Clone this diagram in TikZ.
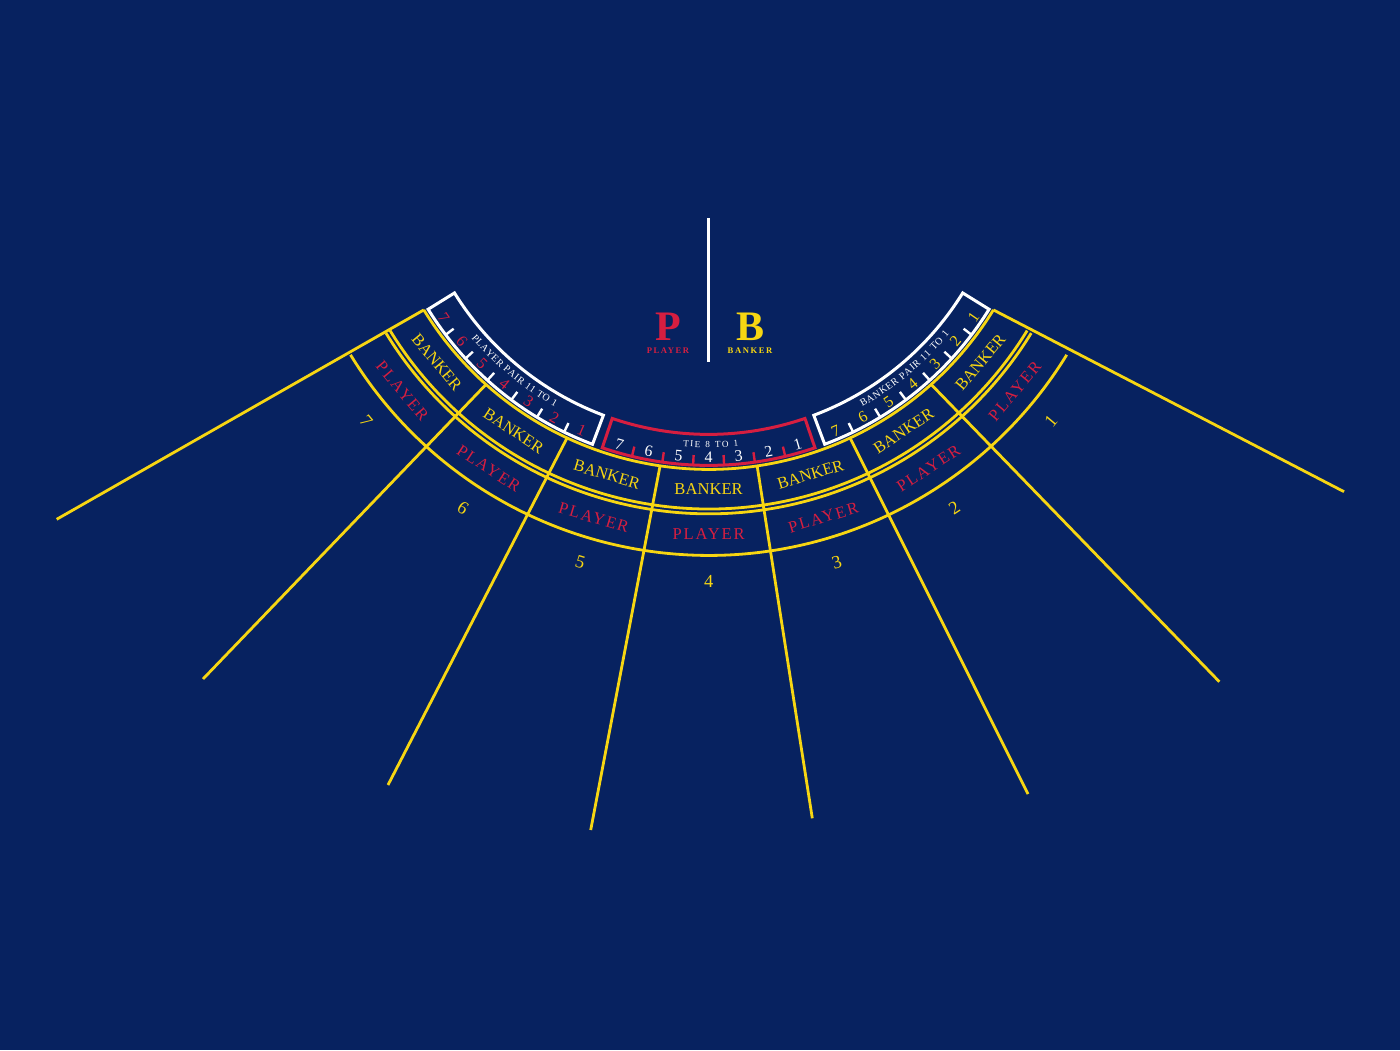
\documentclass[tikz,border=0pt]{standalone}
\usepackage{fontspec}
\setmainfont{Liberation Serif}
\newfontfamily\spaced[LetterSpace=11]{Liberation Serif}
\newfontfamily\wide[LetterSpace=18]{Liberation Serif}
\usepackage{xcolor}
\usetikzlibrary{calc,decorations.text}
\definecolor{felt}{RGB}{7,34,96}
\definecolor{gold}{RGB}{247,214,18}
\definecolor{crimson}{RGB}{214,30,64}

\begin{document}
\begin{tikzpicture}[x=0.5pt, y=0.5pt,
    rail/.style={draw=gold, line width=1.4pt},
    frame/.style={line width=1.5pt},
    tick/.style={line width=1.2pt},
    cell/.style={inner sep=0pt, font=\fontsize{8.3}{9}\selectfont},
    boxno/.style={inner sep=0pt, font=\fontsize{8}{9}\selectfont}]
    \fill[felt] (0,0) rectangle (1400,1050);
    \coordinate (O) at (708.6,914.6);

    % Header
    \coordinate (divtop) at (708,832);
    \coordinate (divbot) at (708,688);
    \draw[white, line width=1.5pt] (divtop) -- (divbot);
    \node[inner sep=0pt, text=crimson, font=\bfseries\fontsize{21}{21}\selectfont] (bigP) at (668,723) {P};
    \node[inner sep=0pt, text=gold, font=\bfseries\fontsize{21}{21}\selectfont] (bigB) at (750,723) {B};
    \node[inner sep=0pt, text=crimson, font=\wide\bfseries\fontsize{4.3}{5}\selectfont] (wordP) at (668,699.5) {PLAYER};
    \node[inner sep=0pt, text=gold, font=\wide\bfseries\fontsize{4.3}{5}\selectfont] (wordB) at (750,699.5) {BANKER};

    % Rings
    \foreach \r in {334,373.6,378.4,420}
        \draw[rail] ($(O)+(211.5:\r)$) arc[start angle=211.5, end angle=328.5, radius=\r];

    % Dividers
    \foreach \k/\ex/\ey in {0/56.7/530.7, 1/203/371, 2/388/265, 3/590.7/220,
        4/812.3/231.7, 5/1028/256, 6/1219.3/368.3, 7/1344/558.3} {
        \pgfmathsetmacro\ang{211.5+16.714*\k}
        \coordinate (in\k) at ($(O)+(\ang:334)$);
        \coordinate (out\k) at (\ex,\ey);
        \draw[rail] (in\k) -- (out\k);
    }

    % Seats
    \foreach \seat [count=\k from 0] in {7,6,5,4,3,2,1} {
        \pgfmathsetmacro\ang{211.5+16.714*(\k+0.5)}
        \node[cell, text=gold, rotate=\ang-270] (bank\seat) at ($(O)+(\ang:354)$) {BANKER};
        \node[cell, text=crimson, rotate=\ang-270] (play\seat) at ($(O)+(\ang:399)$) {\spaced PLAYER};
        \node[cell, text=gold, font=\fontsize{9.2}{10}\selectfont, rotate=\ang-270] (seat\seat) at ($(O)+(\ang:446)$) {\seat};
    }

    % Side bet boxes
    \foreach \b/\lo/\hi/\edge/\ink in {1/211.8/249.4/white/crimson,
        2/251.2/288.8/crimson/white, 3/290.6/328.2/white/gold} {
        \draw[frame, draw=\edge] ($(O)+(\lo:299)$) arc[start angle=\lo, end angle=\hi, radius=299]
            -- ($(O)+(\hi:330)$) arc[start angle=\hi, end angle=\lo, radius=330] -- cycle;
        \foreach \j in {1,...,6} {
            \pgfmathsetmacro\ang{\lo+(\hi-\lo)*\j/7}
            \draw[tick, draw=\edge] ($(O)+(\ang:330)$) -- ($(O)+(\ang:320)$);
        }
        \foreach \n [count=\j from 0] in {7,6,5,4,3,2,1} {
            \pgfmathsetmacro\ang{\lo+(\hi-\lo)*(\j+0.5)/7}
            \node[boxno, text=\ink, rotate=\ang-270] (b\b\n) at ($(O)+(\ang:321.5)$) {\n};
        }
    }
    \path[decorate, decoration={text along path, text align={fit to path}, text color=white,
        text={|\fontsize{5}{6}\selectfont|PLAYER PAIR 11 TO 1}}]
        ($(O)+(220.5:312)$) arc[start angle=220.5, end angle=240.5, radius=312];
    \path[decorate, decoration={text along path, text align={fit to path}, text color=white,
        text={|\fontsize{4.6}{6}\selectfont|TIE 8 TO 1}}]
        ($(O)+(265.3:312)$) arc[start angle=265.3, end angle=275.5, radius=312];
    \path[decorate, decoration={text along path, text align={fit to path}, text color=white,
        text={|\fontsize{5}{6}\selectfont|BANKER PAIR 11 TO 1}}]
        ($(O)+(299.5:312)$) arc[start angle=299.5, end angle=320.5, radius=312];
\end{tikzpicture}
\end{document}
